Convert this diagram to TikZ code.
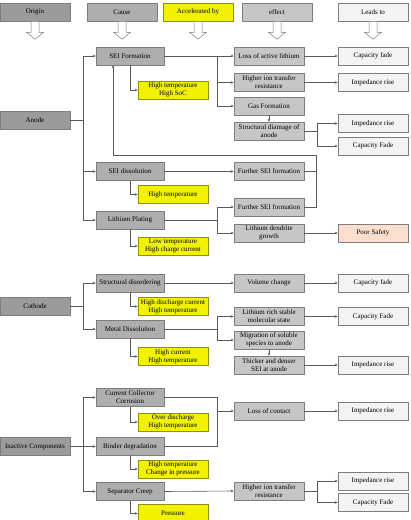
\documentclass[tikz,border=0pt]{standalone}
\usepackage{fontspec}
\setmainfont{Liberation Serif}
\usetikzlibrary{arrows.meta,shadows}
\definecolor{originfill}{RGB}{155,155,155}
\definecolor{causefill}{RGB}{174,174,174}
\definecolor{effectfill}{RGB}{198,198,198}
\definecolor{leadsfill}{RGB}{243,243,243}
\definecolor{yelfill}{RGB}{242,242,0}
\definecolor{safefill}{RGB}{251,222,205}
\definecolor{edgecol}{RGB}{125,125,125}
\definecolor{linecol}{RGB}{90,90,90}
\tikzset{
  box/.style={draw=edgecol, line width=0.5pt, minimum width=70pt, minimum height=18pt,
    inner sep=1pt, align=center, font=\fontsize{7}{8}\selectfont,
    drop shadow={opacity=0.25, shadow xshift=0.8pt, shadow yshift=-0.8pt}},
  originbox/.style={box, fill=originfill},
  causebox/.style={box, fill=causefill, minimum width=68pt},
  yelbox/.style={box, fill=yelfill, draw=yelfill!60!black},
  effectbox/.style={box, fill=effectfill},
  leadsbox/.style={box, fill=leadsfill},
  safebox/.style={box, fill=safefill},
  conn/.style={draw=linecol, line width=0.6pt},
  arr/.style={conn, -{Stealth[length=3pt,width=2.6pt]}},
  harrow/.style={draw=edgecol, line width=0.5pt, fill=white},
}
\newcommand{\hollowdown}[1]{%
  \draw[harrow] ([xshift=-4pt]#1.south) -- ++(0,11) -- ++(-4.5,0) -- ++(8.5,7) -- ++(8.5,-7) -- ++(-4.5,0) -- ++(0,-11) -- cycle;}
\begin{document}
\begin{tikzpicture}[x=1pt,y=-1pt]
\useasboundingbox (0,0) rectangle (411,520);
% guide coordinates
\coordinate (ax) at (83,0);
\coordinate (bx) at (217,0);
\coordinate (cx) at (317,0);
\coordinate (lx) at (316,155);
% headers
\node[originbox] (hOrigin) at (35,12) {Origin};
\node[causebox, minimum width=70pt] (hCause) at (122,12) {Cause};
\node[yelbox] (hAcc) at (198,12) {Accelerated by};
\node[effectbox] (hEffect) at (277,12) {effect};
\node[leadsbox] (hLeads) at (373,12) {Leads to};
\hollowdown{hOrigin}
\hollowdown{hCause}
\hollowdown{hAcc}
\hollowdown{hEffect}
\hollowdown{hLeads}
% ---------- Anode ----------
\node[originbox] (anode) at (35,120) {Anode};
\node[causebox] (sei) at (130,56) {SEI Formation};
\node[yelbox] (y1) at (173,90) {High temperature\\High SoC};
\node[effectbox] (loss) at (269,56) {Loss of active lithium};
\node[leadsbox] (cf1) at (373,56) {Capacity fade};
\node[effectbox] (hit1) at (269,82.5) {Higher ion transfer\\resistance};
\node[leadsbox] (imp1) at (373,82.5) {Impedance rise};
\node[effectbox] (gas) at (269,106) {Gas Formation};
\node[effectbox] (sd) at (269,131) {Structural diamage of\\anode};
\node[leadsbox] (imp2) at (373,123.5) {Impedance rise};
\node[leadsbox] (cf2) at (373,146) {Capacity Fade};
\node[causebox] (seid) at (130,171.5) {SEI dissolution};
\node[yelbox] (y2) at (173,194.5) {High temperature};
\node[effectbox] (fsei1) at (269,171.5) {Further SEI formation};
\node[causebox] (lip) at (130,220) {Lithium Plating};
\node[yelbox] (y3) at (173,246) {Low temperature\\High charge current};
\node[effectbox] (fsei2) at (269,207) {Further SEI formation};
\node[effectbox] (lid) at (269,233) {Lithium dendrite\\growth};
\node[safebox] (safe) at (373,233) {Poor Safety};
% anode connectors
\draw[conn] (anode.east) -- (ax |- anode.east);
\draw[arr] (ax |- anode.east) |- (sei.west);
\draw[arr] (ax |- anode.east) |- (seid.west);
\draw[arr] (ax |- anode.east) |- (lip.west);
\draw[arr] (sei.south) |- (y1.west);
\draw[arr] (seid.south) |- (y2.west);
\draw[arr] (lip.south) |- (y3.west);
\draw[arr] (sei.east) -- (loss.west);
\draw[arr] (bx |- sei.east) |- (hit1.west);
\draw[arr] (bx |- sei.east) |- (gas.west);
\draw[arr] (loss.east) -- (cf1.west);
\draw[arr] (hit1.east) -- (imp1.west);
\draw[arr] (gas.south) -- (sd.north);
\draw[conn] (sd.east) -- (cx |- sd.east);
\draw[arr] (cx |- sd.east) |- (imp2.west);
\draw[arr] (cx |- sd.east) |- (cf2.west);
\draw[arr] (seid.east) -- (fsei1.west);
\draw[conn] (fsei1.east) -- (lx |- fsei1.east);
\draw[arr] (fsei2.east) -| (lx) -| ([xshift=-17pt]sei.south);
\draw[conn] (lip.east) -- (bx |- lip.east);
\draw[arr] (bx |- lip.east) |- (fsei2.west);
\draw[arr] (bx |- lip.east) |- (lid.west);
\draw[arr] (lid.east) -- (safe.west);
% ---------- Cathode ----------
\node[originbox] (cath) at (35,306.5) {Cathode};
\node[causebox] (sdis) at (130,283) {Structural disordering};
\node[yelbox] (y4) at (173,306.5) {High discharge current\\High temperature};
\node[causebox] (md) at (130,329) {Metal Dissolution};
\node[yelbox] (y5) at (173,356.5) {High current\\High temperature};
\node[effectbox] (vol) at (269,283) {Volume change};
\node[leadsbox] (cf3) at (373,283) {Capacity fade};
\node[effectbox] (lrich) at (269,316.5) {Lithium rich stable\\molecular state};
\node[leadsbox] (cf4) at (373,316.5) {Capacity Fade};
\node[effectbox] (mig) at (269,340) {Migration of soluble\\species to anode};
\node[effectbox] (thick) at (269,365) {Thicker and denser\\SEI at anode};
\node[leadsbox] (imp3) at (373,365) {Impedance rise};
\draw[conn] (cath.east) -- (ax |- cath.east);
\draw[arr] (ax |- cath.east) |- (sdis.west);
\draw[arr] (ax |- cath.east) |- (md.west);
\draw[arr] (sdis.south) |- (y4.west);
\draw[arr] (md.south) |- (y5.west);
\draw[arr] (sdis.east) -- (vol.west);
\draw[arr] (vol.east) -- (cf3.west);
\draw[conn] (md.east) -- (bx |- md.east);
\draw[arr] (bx |- md.east) |- (lrich.west);
\draw[arr] (bx |- md.east) |- (mig.west);
\draw[arr] (mig.south) -- (thick.north);
\draw[arr] (lrich.east) -- (cf4.west);
\draw[arr] (thick.east) -- (imp3.west);
% ---------- Inactive ----------
\node[originbox] (inac) at (35,446.5) {Inactive Components};
\node[causebox] (ccc) at (130,397.5) {Current Collector\\Corrosion};
\node[yelbox] (y6) at (173,422) {Over discharge\\High temperature};
\node[causebox] (bind) at (130,446.5) {Binder degradation};
\node[yelbox] (y7) at (173,469) {High temperature\\Change in pressure};
\node[causebox] (sep) at (130,491.5) {Separator Creep};
\node[yelbox] (y8) at (173,513.5) {Pressure};
\node[effectbox] (loc) at (269,411) {Loss of contact};
\node[leadsbox] (imp4) at (373,411) {Impedance rise};
\node[effectbox] (hit2) at (269,491) {Higher ion transfer\\resistance};
\node[leadsbox] (imp5) at (373,481) {Impedance rise};
\node[leadsbox] (cf5) at (373,502.5) {Capacity Fade};
\draw[arr] (inac.east) -- (bind.west);
\draw[arr] (ax |- inac.east) |- (ccc.west);
\draw[arr] (ax |- inac.east) |- (sep.west);
\draw[arr] (ccc.south) |- (y6.west);
\draw[arr] (bind.south) |- (y7.west);
\draw[arr] (sep.south) |- (y8.west);
\draw[conn] (ccc.east) -| (bx |- bind.east) -- (bind.east);
\draw[arr] (bx |- loc.west) -- (loc.west);
\draw[arr] (loc.east) -- (imp4.west);
\draw[arr] (sep.east) -- (hit2.west);
\draw[conn] (hit2.east) -- (cx |- hit2.east);
\draw[arr] (cx |- hit2.east) |- (imp5.west);
\draw[arr] (cx |- hit2.east) |- (cf5.west);
\end{tikzpicture}
\end{document}
